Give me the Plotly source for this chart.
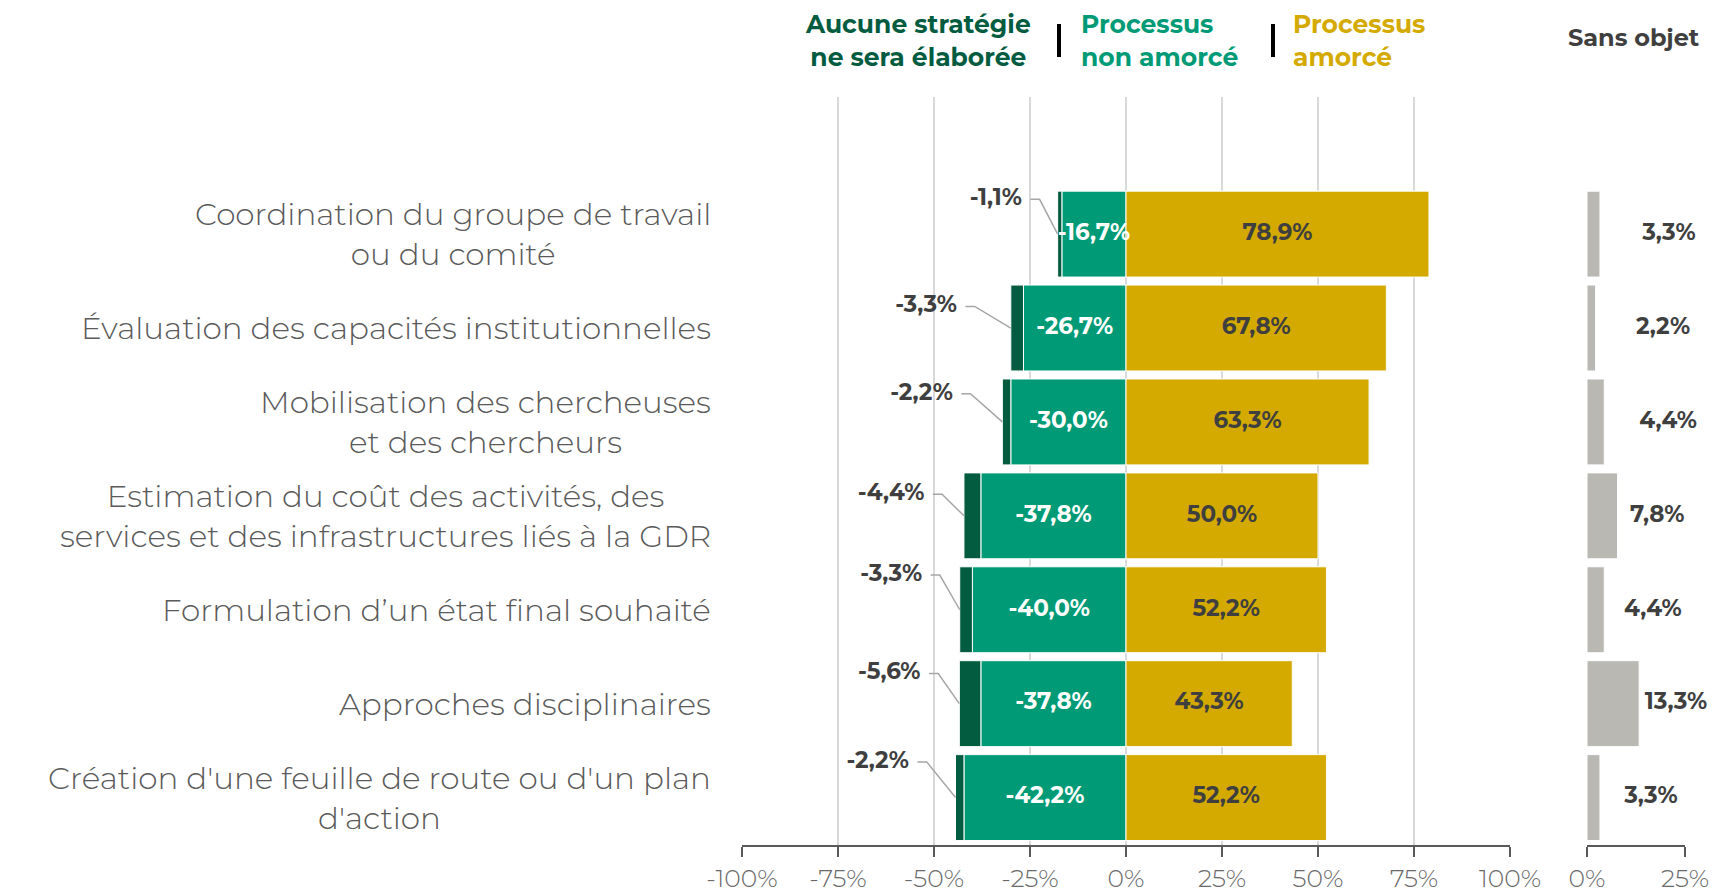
import plotly.graph_objects as go

# Share of respondents, in %
categories = [
    "Coordination du groupe de travail<br>ou du comité",
    "Évaluation des capacités institutionnelles",
    "Mobilisation des chercheuses<br>et des chercheurs",
    "Estimation du coût des activités, des<br>services et des infrastructures liés à la GDR",
    "Formulation d’un état final souhaité",
    "Approches disciplinaires",
    "Création d'une feuille de route ou d'un plan<br>d'action",
]
aucune = [1.1, 3.3, 2.2, 4.4, 3.3, 5.6, 2.2]
non_amorce = [16.7, 26.7, 30.0, 37.8, 40.0, 37.8, 42.2]
amorce = [78.9, 67.8, 63.3, 50.0, 52.2, 43.3, 52.2]
sans_objet = [3.3, 2.2, 4.4, 7.8, 4.4, 13.3, 3.3]

main_ticks = [-100, -75, -50, -25, 0, 25, 50, 75, 100]
side_ticks = [0, 25]

# label placement (layout only)
knee_dx = [4.7, 9.4, 8.3, 5.7, 5.2, 5.5, 7.5]      # % left of bar end
lbl_dy = [0.37, 0.23, 0.30, 0.23, 0.37, 0.32, 0.38]  # rows above bar centre
so_lbl_x = [20.9, 19.4, 20.7, 17.9, 16.8, 22.7, 16.3]

C_DARK = "#035c3f"
C_GREEN = "#009b76"
C_GOLD = "#d4aa00"
C_GRAY = "#b9b8b3"
C_TXT = "#3f3f3f"
FONT = "Montserrat, Open Sans, sans-serif"
W, H = 1725, 891
OFF = 8  # page body margin


def px_x(p):
    return (p - OFF) / W


def px_y(p):
    return 1 - (p - OFF) / H


def pct(v):
    return f"{v:.1f}".replace(".", ",") + "%"


def tick(v):
    return f"{v}%"


ys = list(range(len(categories)))
fig = go.Figure()

bar_line = dict(color="white", width=1)
fig.add_trace(go.Bar(y=ys, x=[-v for v in non_amorce], orientation="h",
                     marker=dict(color=C_GREEN, line=bar_line), xaxis="x", yaxis="y"))
fig.add_trace(go.Bar(y=ys, x=[-v for v in aucune], orientation="h",
                     marker=dict(color=C_DARK, line=bar_line), xaxis="x", yaxis="y"))
fig.add_trace(go.Bar(y=ys, x=amorce, orientation="h",
                     marker=dict(color=C_GOLD, line=bar_line), xaxis="x", yaxis="y"))
fig.add_trace(go.Bar(y=ys, x=sans_objet, orientation="h",
                     marker=dict(color=C_GRAY, line=bar_line), xaxis="x2", yaxis="y"))

val_font = dict(family=FONT, size=23, weight="bold")
# labels inside bars
fig.add_trace(go.Scatter(y=ys, x=[-v / 2 for v in non_amorce], mode="text",
                         text=["-" + pct(v) for v in non_amorce], cliponaxis=False,
                         textfont=dict(val_font, color="white"),
                         xaxis="x", yaxis="y"))
fig.add_trace(go.Scatter(y=ys, x=[v / 2 for v in amorce], mode="text",
                         text=[pct(v) for v in amorce], cliponaxis=False,
                         textfont=dict(val_font, color=C_TXT),
                         xaxis="x", yaxis="y"))
fig.add_trace(go.Scatter(y=ys, x=so_lbl_x, mode="text",
                         text=[pct(v) for v in sans_objet], cliponaxis=False,
                         textfont=dict(val_font, color=C_TXT),
                         xaxis="x2", yaxis="y"))

# "aucune" labels with leader lines
edges = [-(a + n) for a, n in zip(aucune, non_amorce)]
for i, e in enumerate(edges):
    k = e - knee_dx[i]
    fig.add_trace(go.Scatter(x=[k - 2.4, k, e], y=[i - lbl_dy[i], i - lbl_dy[i], i],
                             mode="lines", line=dict(color="#a6a6a6", width=1.5),
                             cliponaxis=False, xaxis="x", yaxis="y"))
fig.add_trace(go.Scatter(x=[e - knee_dx[i] - 4.6 for i, e in enumerate(edges)],
                         y=[i - lbl_dy[i] for i in ys], mode="text",
                         textposition="middle left", cliponaxis=False,
                         text=["-" + pct(v) for v in aucune],
                         textfont=dict(val_font, color=C_TXT),
                         xaxis="x", yaxis="y"))

# category labels
for i, c in enumerate(categories):
    fig.add_annotation(x=px_x(713), xref="paper", y=i, yref="y", text=c, showarrow=False,
                       xanchor="right", yanchor="middle", align="center",
                       font=dict(family=FONT, size=31, color="#5a5a5a", weight=300))

# header legend
head = [
    ("Aucune stratégie<br>ne sera élaborée", 918, "center", C_DARK),
    ("Processus<br>non amorcé", 1080, "left", C_GREEN),
    ("Processus<br>amorcé", 1292, "left", C_GOLD),
]
for txt, x, anc, col in head:
    fig.add_annotation(x=px_x(x), xref="paper", y=1.0, yref="paper", yanchor="top",
                       text=txt, showarrow=False, xanchor=anc, borderpad=0,
                       align="center" if anc == "center" else "left",
                       font=dict(family=FONT, size=25, color=col, weight="bold"))
fig.add_annotation(x=px_x(1634), xref="paper", y=px_y(38), yref="paper", text="Sans objet",
                   showarrow=False, xanchor="center", yanchor="middle",
                   font=dict(family=FONT, size=24, color=C_TXT, weight="bold"))
for x in [1059, 1273]:
    fig.add_shape(type="line", xref="paper", yref="paper", x0=px_x(x), x1=px_x(x),
                  y0=px_y(57), y1=px_y(24), line=dict(color="black", width=4))

axis_common = dict(showgrid=True, gridcolor="#d9d9d9", gridwidth=1.5, zeroline=False,
                   showline=True, linecolor="#595959", linewidth=2, ticks="outside",
                   ticklen=10, tickwidth=2, tickcolor="#595959",
                   tickfont=dict(family=FONT, size=25, color="#6a6a6a", weight=300),
                   anchor="y", automargin=False, fixedrange=True)

fig.update_layout(
    template="none",
    width=W, height=H,
    margin=dict(l=0, r=0, t=0, b=0),
    paper_bgcolor="white", plot_bgcolor="white",
    barmode="relative", bargap=0.085,
    showlegend=False,
    xaxis=dict(domain=[px_x(742), px_x(1510)], range=[-100, 100],
               tickvals=main_ticks, ticktext=[tick(v) for v in main_ticks], **axis_common),
    xaxis2=dict(domain=[px_x(1587), px_x(1685)], range=[0, 25],
                tickvals=side_ticks, ticktext=[tick(v) for v in side_ticks], **axis_common),
    yaxis=dict(domain=[px_y(845), px_y(97)], range=[6.505, -1.46], showticklabels=False,
               showgrid=False, zeroline=False, showline=False, automargin=False),
)

fig.write_html("out.html")
